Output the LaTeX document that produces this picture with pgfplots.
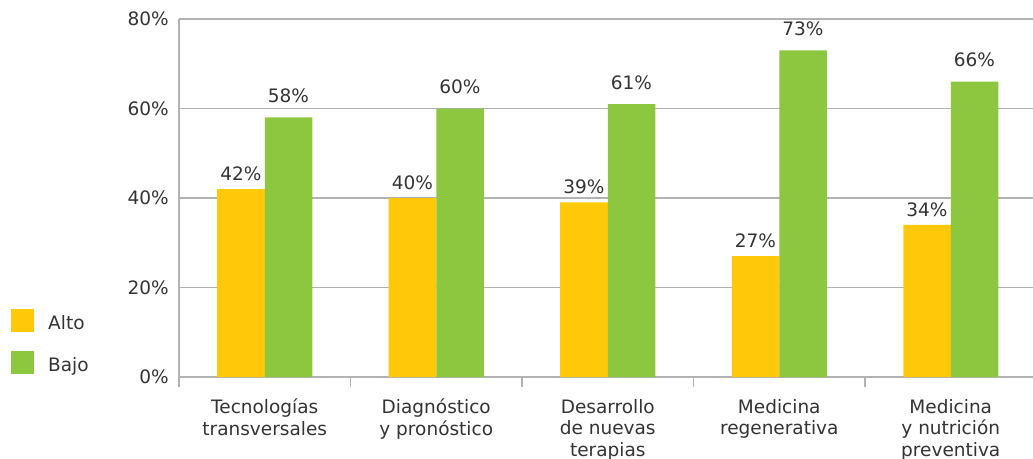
\documentclass[border=0pt]{standalone}
\usepackage{pgfplots}
\pgfplotsset{compat=1.18}
\usepackage{fontspec}
\setmainfont{DejaVu Sans}

\definecolor{altoC}{RGB}{255,200,8}
\definecolor{bajoC}{RGB}{141,198,63}
\definecolor{gridC}{RGB}{178,178,178}
\definecolor{txtC}{RGB}{51,51,51}

\begin{document}
\begin{tikzpicture}[font=\fontsize{18.5}{21.5}\selectfont, text=txtC]
\useasboundingbox (0,0) rectangle (1033pt,458pt);
\begin{axis}[
  at={(179pt,81pt)}, anchor=south west,
  scale only axis, width=854pt, height=358pt,
  xmin=-0.5, xmax=4.4796, ymin=0, ymax=80,
  enlargelimits=false, clip=false,
  axis lines*=left,
  axis line style={-, draw=gridC, line width=1.5pt},
  ymajorgrids, grid style={draw=gridC, line width=1.5pt},
  ytick={0,20,40,60,80},
  yticklabel={\pgfmathprintnumber{\tick}\%},
  /pgf/number format/assume math mode=true,
  yticklabel style={inner sep=0pt, xshift=-10pt, text=txtC},
  xtick={0,1,2,3,4},
  xticklabels={{Tecnologías\\transversales},{Diagnóstico\\y pronóstico},{Desarrollo\\de nuevas\\terapias},{Medicina\\regenerativa},{Medicina\\y nutrición\\preventiva}},
  xticklabel style={align=center, anchor=north, inner sep=0pt, yshift=-22pt, text=txtC},
  major tick length=0pt,
  extra x ticks={-0.5,0.5,1.5,2.5,3.5},
  extra x tick labels={},
  extra x tick style={major tick length=10pt, tick align=outside,
    tick style={draw=gridC, line width=1.5pt}, grid=none},
  ybar, bar width=0.277,
  nodes near coords={\pgfmathprintnumber{\pgfplotspointmeta}\%},
  nodes near coords style={anchor=base, text=txtC,
    /pgf/number format/assume math mode=true},
  legend style={at={(-0.1967,0.19)}, anchor=north west, draw=none, fill=none,
    inner sep=0pt, row sep=19pt, nodes={inner sep=0pt, text=txtC, yshift=4pt},
    /tikz/every odd column/.append style={column sep=14pt}},
  legend cell align=left,
  legend image code/.code={\fill[#1] (0pt,-4.5pt) rectangle (23pt,18.5pt);},
]
\addplot[draw=none, fill=altoC, bar shift=-0.1385,
  nodes near coords style={yshift=8.5pt}]
  coordinates {(0,42) (1,40) (2,39) (3,27) (4,34)};
\addlegendentry{Alto}
\addplot[draw=none, fill=bajoC, bar shift=0.1385,
  nodes near coords style={yshift=15pt}]
  coordinates {(0,58) (1,60) (2,61) (3,73) (4,66)};
\addlegendentry{Bajo}
\end{axis}
\end{tikzpicture}
\end{document}
